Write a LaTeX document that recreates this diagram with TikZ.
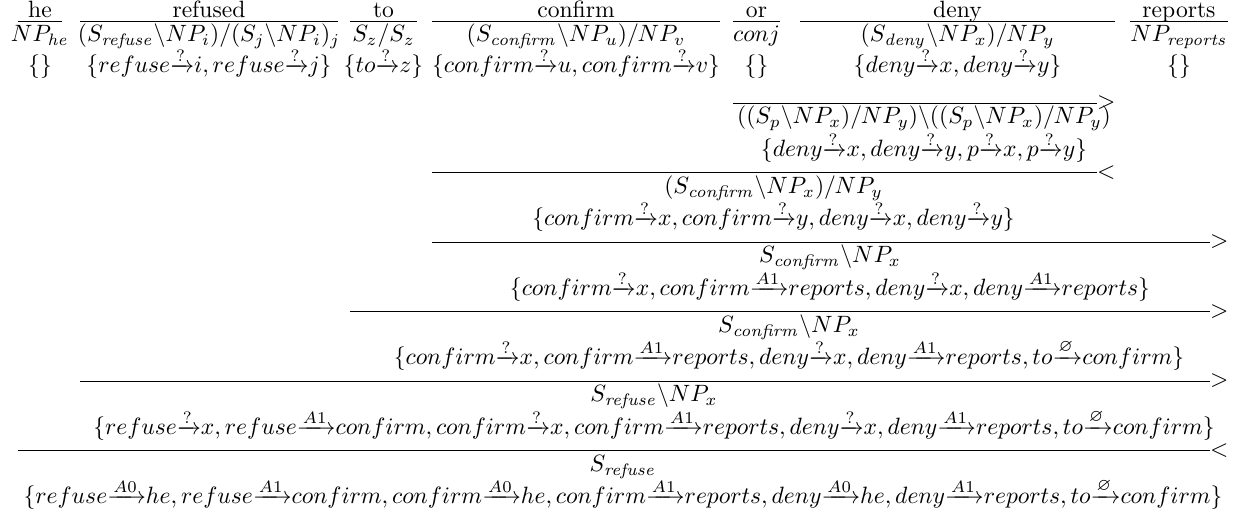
\documentclass[tikz,border=0pt]{standalone}
\usepackage{amsmath,amssymb}
\usetikzlibrary{calc,positioning}
\newcommand{\dep}[1]{\mathord{\xrightarrow{\raisebox{-2.6pt}{$\scriptstyle #1$}}}}
\def\lblw{7.78pt}

\begin{document}
\begin{tikzpicture}[
    x=0.4237pt, y=-0.4237pt,
    % cells sit on their baseline
    cell/.style={inner sep=0pt, anchor=base},
    rule/.style={line width=0.4pt},
    rulelbl/.style={inner sep=0pt, anchor=west}
]
\useasboundingbox (0,0) rectangle (1243,515);

% --- row heights ---
\coordinate (yw) at (0,17.5);
\coordinate (l0) at (0,21);
\coordinate (yc0) at (0,41.5);
\coordinate (ys0) at (0,73);
\foreach \i/\y in {1/103, 2/172.5, 3/242, 4/311.5, 5/381, 6/450.5} {
    \coordinate (l\i) at (0,\y);
    \coordinate (yc\i) at (0,\y+21);
    \coordinate (ys\i) at (0,\y+53.5);
}

% --- word columns: left edge, right edge, middle ---
\foreach \k/\a/\b in {1/18/62, 2/80/338, 3/350/417, 4/432/720, 5/733/780, 6/800/1115, 7/1130/1228} {
    \coordinate (L\k) at (\a,0);
    \coordinate (R\k) at (\b,0);
    \coordinate (M\k) at ({(\a+\b)/2},0);
}

% --- lexical entries ---
% he
\node[cell] (w_he) at (M1 |- yw) {he};
\node[cell] (c_he) at (M1 |- yc0) {$NP_{\mathit{he}}$};
\node[cell] (s_he) at (M1 |- ys0) {$\{\}$};

% refused
\node[cell] (w_ref) at (M2 |- yw) {refused};
\node[cell] (c_ref) at (M2 |- yc0) {$(S_{\mathit{refuse}}\backslash NP_i)/(S_j\backslash NP_i)_j$};
\node[cell] (s_ref) at (M2 |- ys0) {$\{refuse\dep{?}i, refuse\dep{?}j\}$};

% to
\node[cell] (w_to) at (M3 |- yw) {to};
\node[cell] (c_to) at (M3 |- yc0) {$S_z/S_z$};
\node[cell] (s_to) at (M3 |- ys0) {$\{to\dep{?}z\}$};

% confirm
\node[cell] (w_conf) at (M4 |- yw) {confirm};
\node[cell] (c_conf) at (M4 |- yc0) {$(S_{\mathit{confirm}}\backslash NP_u)/NP_v$};
\node[cell] (s_conf) at (M4 |- ys0) {$\{confirm\dep{?}u, confirm\dep{?}v\}$};

% or
\node[cell] (w_or) at (M5 |- yw) {or};
\node[cell] (c_or) at (M5 |- yc0) {$conj$};
\node[cell] (s_or) at (M5 |- ys0) {$\{\}$};

% deny
\node[cell] (w_deny) at (M6 |- yw) {deny};
\node[cell] (c_deny) at (M6 |- yc0) {$(S_{\mathit{deny}}\backslash NP_x)/NP_y$};
\node[cell] (s_deny) at (M6 |- ys0) {$\{deny\dep{?}x, deny\dep{?}y\}$};

% reports
\node[cell] (w_rep) at (M7 |- yw) {reports};
\node[cell] (c_rep) at (M7 |- yc0) {$NP_{\mathit{reports}}$};
\node[cell] (s_rep) at (M7 |- ys0) {$\{\}$};

% lexical rules
\foreach \k in {1,...,7}
    \draw[rule] (L\k |- l0) -- (R\k |- l0);

% --- derivation ---
% or deny
\draw[rule] (L5 |- l1) -- ([xshift=-\lblw]R6 |- l1) node[rulelbl] (op1) {$>$};
\coordinate (m1) at ($(L5)!0.5!(R6)$);
\node[cell] (c1) at (m1 |- yc1) {$((S_p\backslash NP_x)/NP_y)\backslash((S_p\backslash NP_x)/NP_y)$};
\node[cell] (s1) at (m1 |- ys1) {$\{deny\dep{?}x, deny\dep{?}y, p\dep{?}x, p\dep{?}y\}$};

% confirm or deny
\draw[rule] (L4 |- l2) -- ([xshift=-\lblw]R6 |- l2) node[rulelbl] (op2) {$<$};
\coordinate (m2) at ($(L4)!0.5!(R6)$);
\node[cell] (c2) at (m2 |- yc2) {$(S_{\mathit{confirm}}\backslash NP_x)/NP_y$};
\node[cell] (s2) at (m2 |- ys2) {$\{confirm\dep{?}x, confirm\dep{?}y, deny\dep{?}x, deny\dep{?}y\}$};

% ... reports
\draw[rule] (L4 |- l3) -- ([xshift=-\lblw]R7 |- l3) node[rulelbl] (op3) {$>$};
\coordinate (m3) at ($(L4)!0.5!(R7)$);
\node[cell] (c3) at (m3 |- yc3) {$S_{\mathit{confirm}}\backslash NP_x$};
\node[cell] (s3) at (m3 |- ys3) {$\{confirm\dep{?}x, confirm\dep{A1}reports, deny\dep{?}x, deny\dep{A1}reports\}$};

% to ...
\draw[rule] (L3 |- l4) -- ([xshift=-\lblw]R7 |- l4) node[rulelbl] (op4) {$>$};
\coordinate (m4) at ($(L3)!0.5!(R7)$);
\node[cell] (c4) at (m4 |- yc4) {$S_{\mathit{confirm}}\backslash NP_x$};
\node[cell] (s4) at (m4 |- ys4) {$\{confirm\dep{?}x, confirm\dep{A1}reports, deny\dep{?}x, deny\dep{A1}reports, to\dep{\varnothing}confirm\}$};

% refused ...
\draw[rule] (L2 |- l5) -- ([xshift=-\lblw]R7 |- l5) node[rulelbl] (op5) {$>$};
\coordinate (m5) at ($(L2)!0.5!(R7)$);
\node[cell] (c5) at (m5 |- yc5) {$S_{\mathit{refuse}}\backslash NP_x$};
\node[cell] (s5) at (m5 |- ys5) {$\{refuse\dep{?}x, refuse\dep{A1}confirm, confirm\dep{?}x, confirm\dep{A1}reports, deny\dep{?}x, deny\dep{A1}reports, to\dep{\varnothing}confirm\}$};

% he ...
\draw[rule] (L1 |- l6) -- ([xshift=-\lblw]R7 |- l6) node[rulelbl] (op6) {$<$};
\coordinate (m6) at ($(L1)!0.5!(R7)$);
\node[cell] (c6) at (m6 |- yc6) {$S_{\mathit{refuse}}$};
\node[cell] (s6) at (m6 |- ys6) {$\{refuse\dep{A0}he, refuse\dep{A1}confirm, confirm\dep{A0}he, confirm\dep{A1}reports, deny\dep{A0}he, deny\dep{A1}reports, to\dep{\varnothing}confirm\}$};

\end{tikzpicture}
\end{document}
